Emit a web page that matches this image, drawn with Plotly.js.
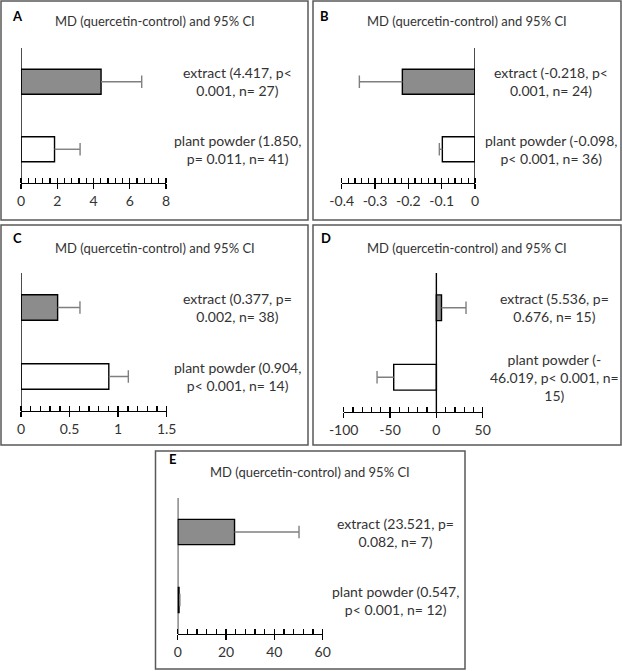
<!DOCTYPE html>
<html>
<head>
<meta charset="utf-8">
<script src="https://cdn.plot.ly/plotly-3.0.1.min.js"></script>
<style>
  html, body { margin: 0; padding: 0; background: #fff; }
  #chart { width: 622px; height: 671px; }
</style>
</head>
<body>
<div id="chart"></div>
<script>
// Mean differences (quercetin - control) with upper/lower 95% CI limit, per panel
const panelLetters = ['A', 'B', 'C', 'D', 'E'];
const categories = ['plant powder', 'extract'];

const mdExtract = [4.417, -0.218, 0.377, 5.536, 23.521];
const ciExtract = [6.66, -0.347, 0.607, 32, 50.2];
const mdPowder  = [1.850, -0.098, 0.904, -46.019, 0.547];
const ciPowder  = [3.26, -0.107, 1.105, -64, 0.9];

const extractLabels = [
  'extract (4.417, p&lt;<br>0.001, n= 27)',
  'extract (-0.218, p&lt;<br>0.001, n= 24)',
  'extract (0.377, p=<br>0.002, n= 38)',
  'extract (5.536, p=<br>0.676, n= 15)',
  'extract (23.521, p=<br>0.082, n= 7)'
];
const powderLabels = [
  'plant powder (1.850,<br>p= 0.011, n= 41)',
  'plant powder (-0.098,<br>p&lt; 0.001, n= 36)',
  'plant powder (0.904,<br>p&lt; 0.001, n= 14)',
  'plant powder (-<br>46.019, p&lt; 0.001, n=<br>15)',
  'plant powder (0.547,<br>p&lt; 0.001, n= 12)'
];

const axisRanges = [[0, 8], [-0.4, 0], [0, 1.5], [-100, 50], [0, 60]];
const tickValues = [
  [0, 2, 4, 6, 8],
  [-0.4, -0.3, -0.2, -0.1, 0],
  [0, 0.5, 1, 1.5],
  [-100, -50, 0, 50],
  [0, 20, 40, 60]
];
const tickLabels = [
  ['0', '2', '4', '6', '8'],
  ['-0.4', '-0.3', '-0.2', '-0.1', '0'],
  ['0', '0.5', '1', '1.5'],
  ['-100', '-50', '0', '50'],
  ['0', '20', '40', '60']
];
const minorStep = [0.4, 0.02, 0.1, 10, 4];

const chartTitle = 'MD (quercetin-control) and 95% CI';

// ---- page geometry (pixels in a 622 x 671 canvas) ----
const W = 622, H = 671;
const px = v => v / W;
const py = v => 1 - v / H;

// panel frames: [left, top, right, bottom]
const frames = [
  [1, 1, 308, 220],
  [313, 1, 621, 220],
  [1, 225, 308, 445],
  [313, 225, 621, 445],
  [155.5, 451, 465, 669]
];
// plot areas: [left, top, right, bottom]
const plotAreas = [
  [21, 48, 166, 183],
  [341.7, 48, 475, 183],
  [21, 273, 166.7, 411],
  [343.7, 273, 482.7, 412],
  [177.7, 498, 322.7, 634]
];
const letterPos = [[17, 16], [324, 16], [17, 238], [326, 238], [172, 459]];
const titleY = [21, 21, 248, 248, 472];
const labelX = [237, 551, 237, 554, 395];

const FONT = 'Lato, "Open Sans", sans-serif';
const TEXT = '#333333';
const BAR_GREY = '#8c8c8c';
const ERR_GREY = '#7f7f7f';

const traces = [];
const layout = {
  width: W, height: H,
  margin: {l: 0, r: 0, t: 0, b: 0},
  paper_bgcolor: '#ffffff',
  plot_bgcolor: 'rgba(0,0,0,0)',
  showlegend: false,
  font: {family: FONT, size: 13, color: TEXT},
  shapes: [],
  annotations: []
};

panelLetters.forEach((letter, i) => {
  const n = i + 1;
  const xa = 'x' + (n === 1 ? '' : n);
  const ya = 'y' + (n === 1 ? '' : n);
  const xKey = 'xaxis' + (n === 1 ? '' : n);
  const yKey = 'yaxis' + (n === 1 ? '' : n);
  const pa = plotAreas[i];

  // bars: plant powder (bottom) and extract (top)
  traces.push({
    type: 'bar', orientation: 'h',
    x: [mdPowder[i], mdExtract[i]],
    y: [0, 1],
    width: 0.37,
    marker: {color: ['#ffffff', BAR_GREY], line: {color: '#000000', width: 1.4}},
    xaxis: xa, yaxis: ya,
    hoverinfo: 'skip'
  });

  // one-sided 95% CI whiskers, from the bar end out to the CI limit
  traces.push({
    type: 'scatter', mode: 'lines',
    x: [mdPowder[i], ciPowder[i], null, mdExtract[i], ciExtract[i]],
    y: [0, 0, null, 1, 1],
    line: {color: ERR_GREY, width: 1.4},
    xaxis: xa, yaxis: ya, hoverinfo: 'skip'
  });
  traces.push({
    type: 'scatter', mode: 'markers',
    x: [ciPowder[i], ciExtract[i]],
    y: [0, 1],
    marker: {symbol: 'line-ns', size: 9, line: {color: ERR_GREY, width: 1.4}},
    xaxis: xa, yaxis: ya, hoverinfo: 'skip'
  });

  layout[xKey] = {
    domain: [px(pa[0]), px(pa[2])],
    anchor: ya,
    range: axisRanges[i],
    showgrid: false,
    zeroline: false,
    showline: true, linecolor: '#000000', linewidth: 1.4,
    tickmode: 'array', tickvals: tickValues[i], ticktext: tickLabels[i],
    ticks: 'outside', ticklen: 5, tickwidth: 1.3, tickcolor: '#000000',
    minor: {ticks: 'inside', ticklen: 5, tickwidth: 1.3, tickcolor: '#000000',
            tick0: 0, dtick: minorStep[i], showgrid: false},
    tickfont: {family: FONT, size: 14, color: TEXT},
    fixedrange: true
  };
  layout[yKey] = {
    domain: [py(pa[3]), py(pa[1])],
    anchor: xa,
    range: [-0.5, 1.5],
    showgrid: false, zeroline: false, showline: false,
    showticklabels: false, ticks: '',
    fixedrange: true
  };

  // vertical value axis at x = 0
  layout.shapes.push({
    type: 'line', xref: xa, yref: ya + ' domain',
    x0: 0, x1: 0, y0: 0, y1: 1,
    line: {color: '#000000', width: 1.4}
  });

  // panel frame
  const f = frames[i];
  layout.shapes.push({
    type: 'rect', xref: 'paper', yref: 'paper',
    x0: px(f[0]), x1: px(f[2]), y0: py(f[3]), y1: py(f[1]),
    line: {color: '#595959', width: 1.5}, fillcolor: 'rgba(0,0,0,0)'
  });

  // panel letter and title
  layout.annotations.push({
    xref: 'paper', yref: 'paper', x: px(letterPos[i][0]), y: py(letterPos[i][1]),
    text: '<b>' + letter + '</b>', showarrow: false,
    font: {family: FONT, size: 13, color: '#000000'},
    xanchor: 'center', yanchor: 'middle'
  });
  layout.annotations.push({
    xref: 'paper', yref: 'paper', x: px((f[0] + f[2]) / 2), y: py(titleY[i]),
    text: chartTitle, showarrow: false,
    font: {family: FONT, size: 13, color: TEXT},
    xanchor: 'center', yanchor: 'middle'
  });

  // category labels beside the bars
  layout.annotations.push({
    xref: 'paper', yref: ya, x: px(labelX[i]), y: 1,
    text: extractLabels[i], showarrow: false, align: 'center',
    font: {family: FONT, size: 14, color: TEXT},
    xanchor: 'center', yanchor: 'middle'
  });
  layout.annotations.push({
    xref: 'paper', yref: ya, x: px(labelX[i]), y: 0,
    text: powderLabels[i], showarrow: false, align: 'center',
    font: {family: FONT, size: 14, color: TEXT},
    xanchor: 'center', yanchor: 'middle'
  });
});

Plotly.newPlot('chart', traces, layout, {staticPlot: true, displayModeBar: false});
</script>
</body>
</html>
